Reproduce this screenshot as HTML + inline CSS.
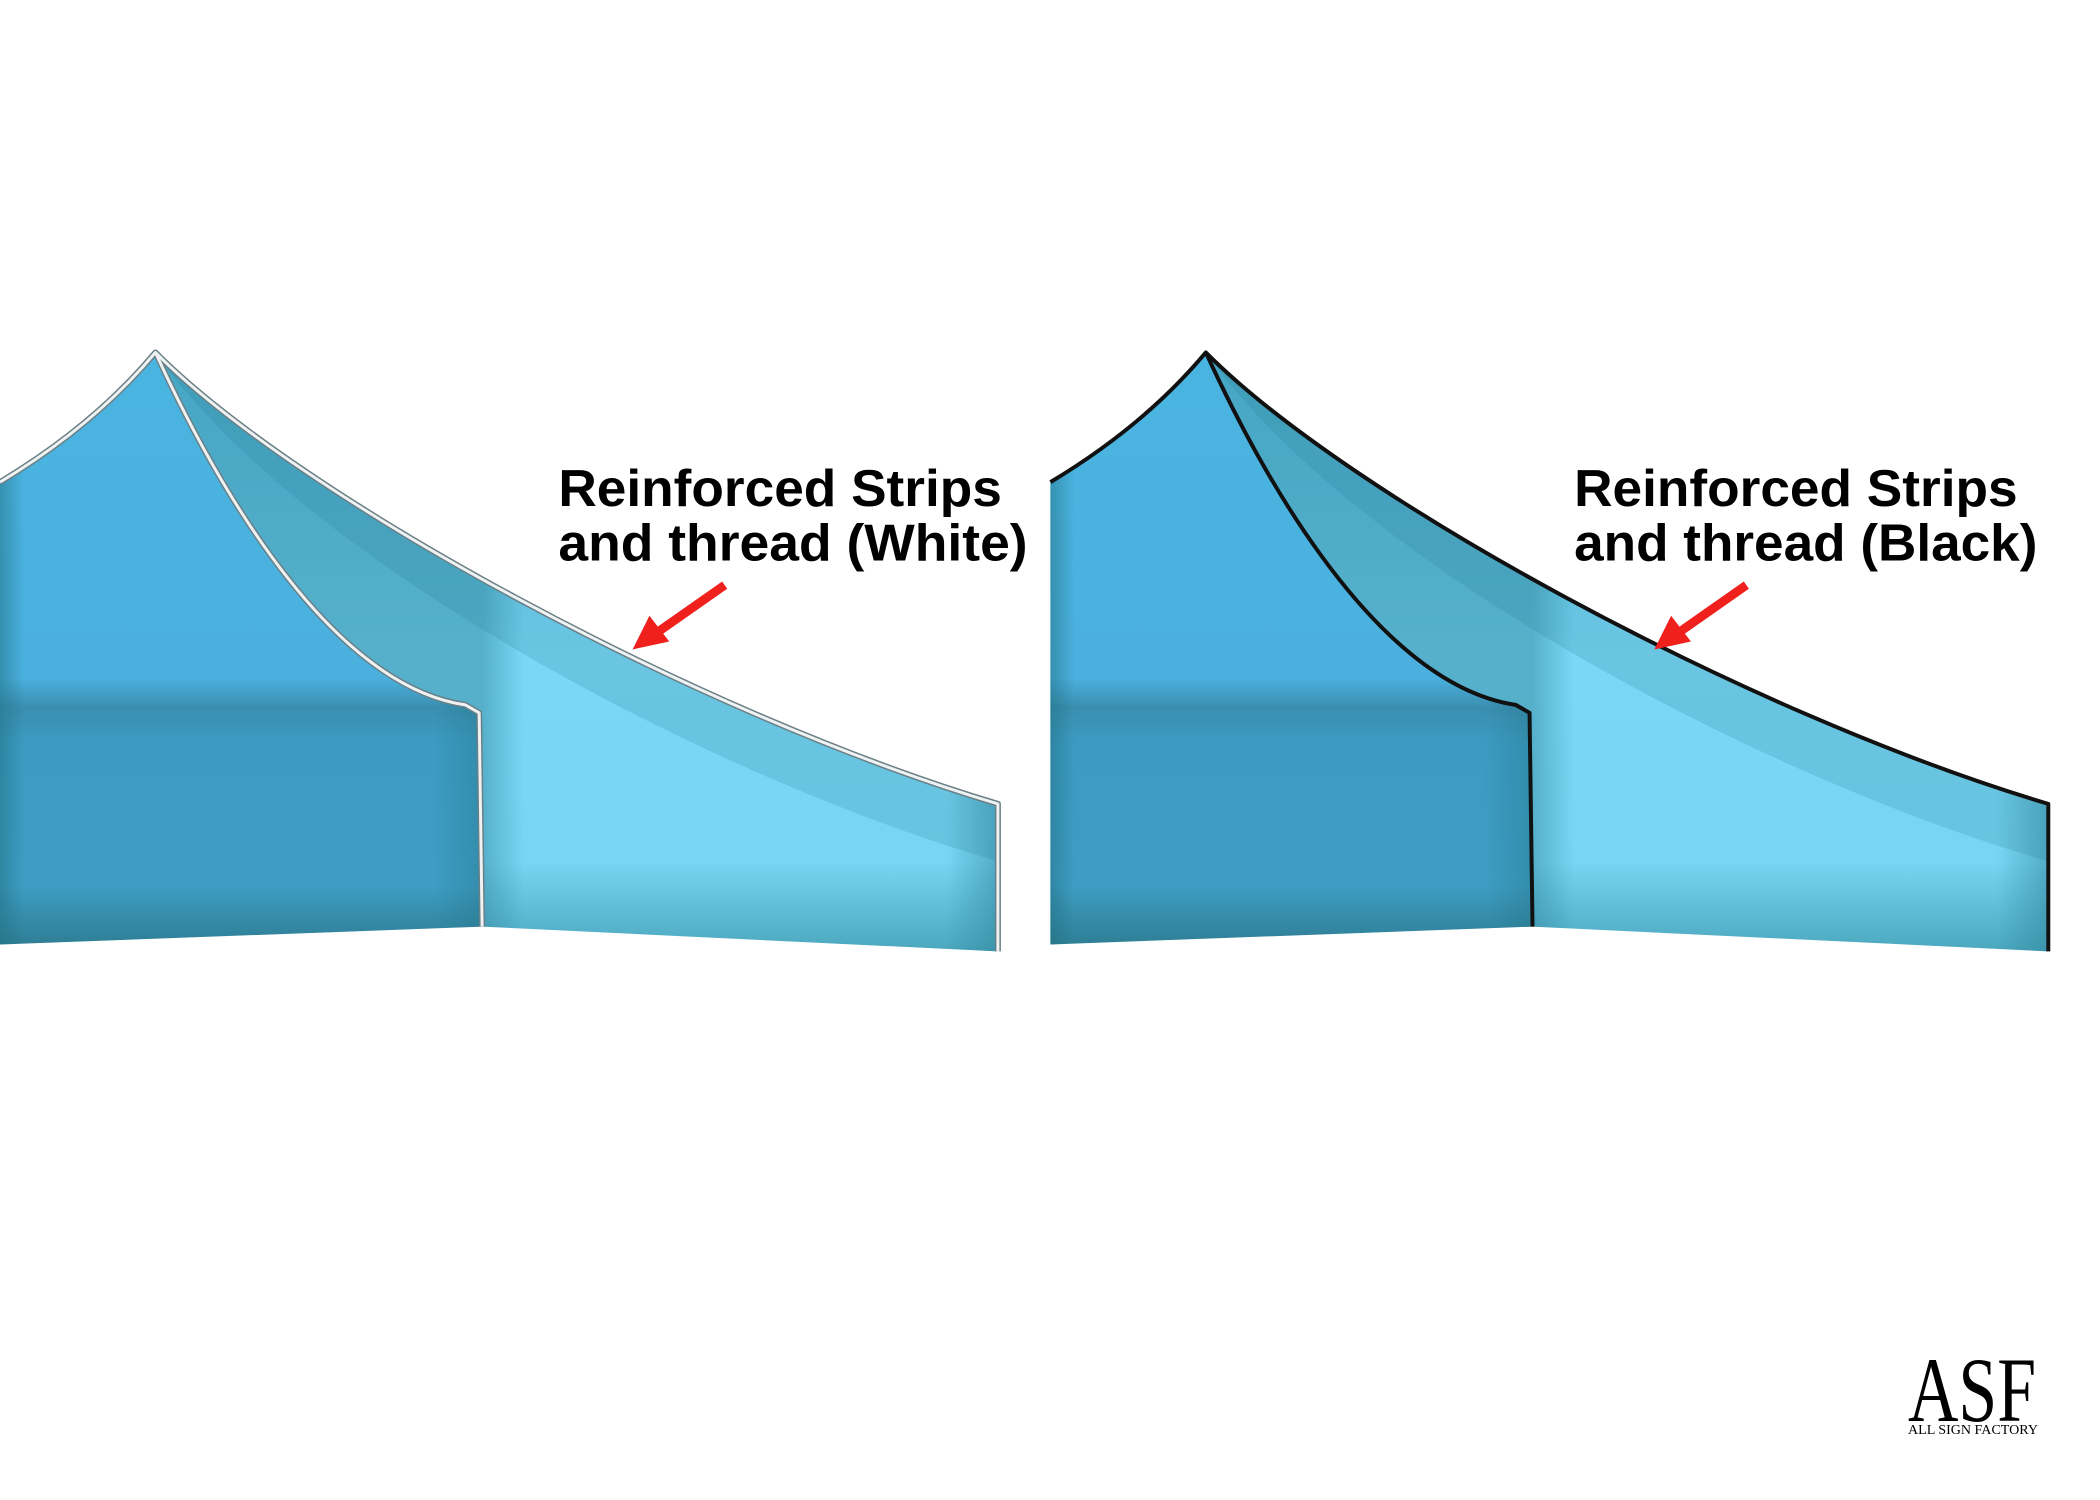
<!DOCTYPE html>
<html><head><meta charset="utf-8"><style>
html,body{margin:0;padding:0;background:#fff;width:2100px;height:1500px;overflow:hidden}
</style></head><body>
<svg width="2100" height="1500" viewBox="0 0 2100 1500" xmlns="http://www.w3.org/2000/svg">
<defs>
<linearGradient id="lp" x1="0" y1="356" x2="0" y2="954" gradientUnits="userSpaceOnUse">
<stop offset="0" stop-color="#4ab4e0"/>
<stop offset="0.55" stop-color="#4bb0de"/>
<stop offset="0.6" stop-color="#3a8fb0"/>
<stop offset="0.66" stop-color="#3c9bc2"/>
<stop offset="0.9" stop-color="#3e9dc4"/>
<stop offset="1" stop-color="#2f7f95"/>
</linearGradient>
<linearGradient id="lpx" x1="0" y1="0" x2="487" y2="0" gradientUnits="userSpaceOnUse">
<stop offset="0" stop-color="#1f6f80" stop-opacity="0.5"/>
<stop offset="0.05" stop-color="#1f6f80" stop-opacity="0"/>
<stop offset="0.9" stop-color="#1f6f80" stop-opacity="0"/>
<stop offset="1" stop-color="#1f6f80" stop-opacity="0.35"/>
</linearGradient>
<linearGradient id="rp" x1="0" y1="356" x2="0" y2="961" gradientUnits="userSpaceOnUse">
<stop offset="0" stop-color="#5bc6ea"/>
<stop offset="0.5" stop-color="#7ad8f6"/>
<stop offset="0.85" stop-color="#78d6f4"/>
<stop offset="1" stop-color="#4aa7bd"/>
</linearGradient>
<linearGradient id="rpx" x1="487" y1="0" x2="1008" y2="0" gradientUnits="userSpaceOnUse">
<stop offset="0" stop-color="#2a7f96" stop-opacity="0.45"/>
<stop offset="0.08" stop-color="#2a7f96" stop-opacity="0"/>
<stop offset="0.9" stop-color="#2a7f96" stop-opacity="0"/>
<stop offset="1" stop-color="#2a7f96" stop-opacity="0.5"/>
</linearGradient>
<g id="tent">
<path d="M0,487 Q95,430 157,356 C200,450 320,690 470,712 L484,720 L487,936 L0,954 Z" fill="url(#lp)"/>
<path d="M0,487 Q95,430 157,356 C200,450 320,690 470,712 L484,720 L487,936 L0,954 Z" fill="url(#lpx)"/>
<path d="M157,356 C300,500 700,720 1008,812 L1008,961 L487,936 L484,720 L470,712 C320,690 200,450 157,356 Z" fill="url(#rp)"/>
<path d="M157,356 C300,500 700,720 1008,812 L1008,961 L487,936 L484,720 L470,712 C320,690 200,450 157,356 Z" fill="url(#rpx)"/>
<path d="M157,356 C300,500 700,720 1008,812 L1008,870 C700,780 300,560 157,356 Z" fill="#2a7f96" opacity="0.2"/>
</g>
</defs>
<g transform="scale(0.99)">
<use href="#tent"/>
<g fill="none" stroke-linejoin="round">
<path d="M0,487 Q95,430 157,356 C300,500 700,720 1008,812 L1008,961 M157,356 C200,450 320,690 470,712 L484,720 L487,936" stroke="#6a7f86" stroke-width="6"/>
<path d="M0,487 Q95,430 157,356 C300,500 700,720 1008,812 L1008,961 M157,356 C200,450 320,690 470,712 L484,720 L487,936" stroke="#eef2f2" stroke-width="3"/>
</g>
<g transform="translate(1061,0)">
<use href="#tent"/>
<path d="M0,487 Q95,430 157,356 C300,500 700,720 1008,812 L1008,961 M157,356 C200,450 320,690 470,712 L484,720 L487,936" fill="none" stroke="#111" stroke-width="4" stroke-linejoin="round"/>
</g>
<g font-family="Liberation Sans, Arial, sans-serif" font-weight="bold" font-size="52" fill="#000">
<text x="564" y="511" textLength="448" lengthAdjust="spacingAndGlyphs">Reinforced Strips</text>
<text x="564" y="566" textLength="474" lengthAdjust="spacingAndGlyphs">and thread (White)</text>
<text x="1590" y="511" textLength="448" lengthAdjust="spacingAndGlyphs">Reinforced Strips</text>
<text x="1590" y="566" textLength="468" lengthAdjust="spacingAndGlyphs">and thread (Black)</text>
</g>
<g stroke="#f0201c" stroke-width="9" fill="#f0201c">
<line x1="732" y1="591" x2="665" y2="638"/>
<polygon points="639,656 656,622 676,648" stroke="none"/>
<line x1="1764" y1="591" x2="1697" y2="638"/>
<polygon points="1671,656 1688,622 1708,648" stroke="none"/>
</g>
</g>
<g font-family="Liberation Serif, serif" fill="#000">
<text x="1908" y="1421" font-size="92" textLength="128" lengthAdjust="spacingAndGlyphs">ASF</text>
<text x="1908" y="1434" font-size="14" textLength="130" lengthAdjust="spacingAndGlyphs">ALL SIGN FACTORY</text>
</g>
</svg>
</body></html>
